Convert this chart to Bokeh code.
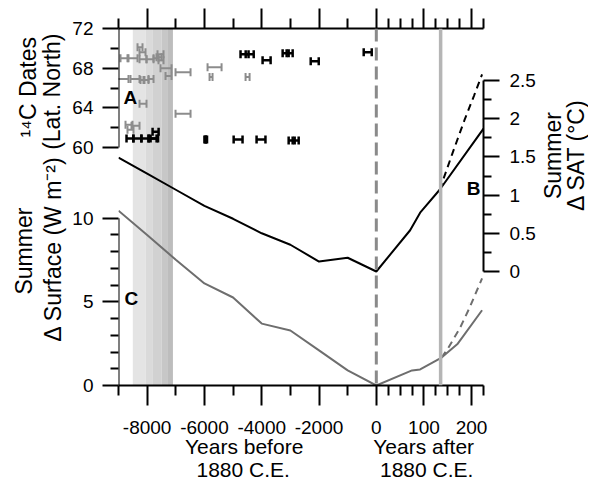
import numpy as np
from bokeh.plotting import figure
from bokeh.layouts import row
from bokeh.models import (Range1d, LinearAxis, FixedTicker, Span, Whisker, TeeHead,
                          ColumnDataSource, BoxAnnotation, Label, Arrow)
from bokeh.embed import file_html
from bokeh.resources import INLINE

# ---------------- data ----------------
# Summer delta SAT (deg C), black line (years relative to 1880 C.E.)
sat_years = [-9000, -8000, -7000, -6000, -5000, -4000, -3000, -2000, -1000, 0, 71, 92, 133, 225]
sat_vals = [1.49, 1.28, 1.07, 0.86, 0.69, 0.50, 0.35, 0.13, 0.18, 0.0, 0.54, 0.77, 1.07, 1.87]
sat_proj_years = [133, 160, 185, 205, 222]
sat_proj_vals = [1.07, 1.55, 1.98, 2.30, 2.58]

# Summer delta surface energy (W m-2), grey line
surf_years = [-9000, -8000, -7000, -6000, -5000, -4000, -3000, -2000, -1000, 0, 75, 92, 137, 171, 222]
surf_vals = [10.45, 8.99, 7.52, 6.10, 5.26, 3.70, 3.29, 2.10, 0.90, 0.0, 0.90, 0.96, 1.67, 2.50, 4.50]
surf_proj_years = [137, 150, 175, 195, 222]
surf_proj_vals = [1.67, 2.20, 3.40, 4.60, 6.40]

# 14C dates: latitude, age range (years before 1880 as negative numbers)
black_lat = [69.6, 68.7, 69.5, 69.5, 68.8, 69.4, 69.4, 60.7, 60.7, 60.8, 60.8, 60.8, 60.8,
             60.9, 60.9, 60.9, 60.9, 60.9, 61.6]
black_lo = [-440, -2290, -3270, -3130, -3970, -4740, -4560, -3060, -2920, -4180, -4980, -6000, -5960,
            -8720, -8480, -8200, -7950, -7880, -7810]
black_hi = [-160, -2010, -3060, -2920, -3690, -4460, -4280, -2850, -2710, -3870, -4670, -5950, -5910,
            -8480, -8200, -7950, -7670, -7620, -7600]

grey_lat = [69.0, 69.0, 68.9, 68.9, 69.0, 69.1, 68.8, 70.1, 69.6, 69.4, 68.0, 67.2, 67.6, 68.1,
            67.1, 67.1, 66.9, 66.9, 66.8, 66.8, 66.9, 64.4, 63.4, 62.3, 62.2, 61.8]
grey_lo = [-8930, -8651, -8266, -8022, -7777, -7673, -7603, -8336, -8266, -7638, -7533, -7358, -7009, -5891,
           -5821, -4564, -9070, -8581, -8232, -8127, -7952, -8266, -7009, -8755, -8546, -8686]
grey_hi = [-8686, -8336, -8022, -7777, -7603, -7498, -7428, -8162, -8057, -7428, -7149, -7149, -6485, -5402,
           -5717, -4424, -8651, -8266, -8092, -7952, -7777, -8022, -6485, -8511, -8266, -8476]

# shaded interval (years) and its grey steps
band_edges = [-8500, -8050, -7800, -7500, -7300, -7100]
band_colors = ["#e4e4e4", "#dadada", "#d1d1d1", "#c7c7c7", "#bdbdbd"]

present_year = 135

# tick values
x_major_before = [-8000, -6000, -4000, -2000, 0]
x_minor_before = [-9000, -7000, -5000, -3000, -1000]
x_major_after = [100, 200]
x_minor_after = [25, 50, 75, 125, 150, 175, 225]
surf_major = [0, 5, 10]
surf_minor = [1, 2, 3, 4, 6, 7, 8, 9]
date_major = [60, 64, 68, 72]
date_minor = [62, 66, 70]
sat_major = [0, 0.5, 1, 1.5, 2, 2.5]
sat_minor = [0.25, 0.75, 1.25, 1.75, 2.25]
sat_labels = ["0", "0.5", "1", "1.5", "2", "2.5"]

# ---------------- geometry / scales ----------------
FONT = "Liberation Sans"
K = 16.63                      # broken axis: 100 yr after 1880 drawn as wide as 1663 yr before


def xt(v):
    a = np.asarray(v, dtype=float)
    return np.where(a > 0, a * K, a)


def xf(v):
    return float(xt([v])[0])


X0, X1 = -9000.0, xf(225)
PX_SURF = 16.73               # px per W m-2
FRAME_H = 357.0
S_TOP = FRAME_H / PX_SURF
D_HI = 72.0
D_LO = D_HI - FRAME_H / 9.917
SAT_PX = 76.4
SAT_HI = 243.0 / SAT_PX
SAT_LO = -(FRAME_H - 243.0) / SAT_PX


def to_s(lat):
    return (lat - D_LO) / (D_HI - D_LO) * S_TOP


# page layout: [left titles | main plot | right titles]
H = 486
LEFT_W, MAIN_BL, MAIN_BR, RIGHT_W = 68, 50, 54, 50
FRAME_L = LEFT_W + MAIN_BL            # 118
FRAME_R = FRAME_L + 366               # 484
MAIN_W = MAIN_BL + 366 + MAIN_BR


# pixel helpers for text placement inside the main frame (frame: x 118..484, y 28..385)
def ux(px):
    return X0 + (px - FRAME_L) * (X1 - X0) / 366.0


def uy(py):
    return (385.0 - py) / PX_SURF


p = figure(width=MAIN_W, height=H, x_range=Range1d(X0, X1), y_range=Range1d(0, S_TOP),
           output_backend="svg", toolbar_location=None,
           x_axis_location=None, y_axis_location=None,
           min_border_left=MAIN_BL, min_border_right=MAIN_BR, min_border_top=28,
           min_border_bottom=H - 385)
p.extra_y_ranges = {"dates": Range1d(D_LO, D_HI), "sat": Range1d(SAT_LO, SAT_HI)}
p.outline_line_color = None
p.background_fill_color = "white"
p.border_fill_color = "white"
p.grid.grid_line_color = None
p.grid.visible = False


def style_axis(ax, big_out, small_out, standoff=8):
    ax.axis_line_width = 2
    ax.axis_line_color = "black"
    ax.major_tick_line_width = 2
    ax.minor_tick_line_width = 2
    ax.major_tick_in = 0
    ax.minor_tick_in = 0
    ax.major_tick_out = big_out
    ax.minor_tick_out = small_out
    ax.major_label_text_font = FONT
    ax.major_label_text_font_size = "19px"
    ax.major_label_text_color = "black"
    ax.major_label_standoff = standoff


def title_axis(side, ticks, texts, standoff, orientation, size):
    ax = LinearAxis(ticker=FixedTicker(ticks=ticks, minor_ticks=[]),
                    major_label_overrides={t: s for t, s in zip(ticks, texts)})
    ax.axis_line_color = None
    ax.major_tick_line_color = None
    ax.minor_tick_line_color = None
    ax.major_tick_in = 0
    ax.major_tick_out = 0
    ax.minor_tick_in = 0
    ax.minor_tick_out = 0
    ax.major_label_standoff = standoff
    ax.major_label_text_font = FONT
    ax.major_label_text_font_size = size
    ax.major_label_text_color = "black"
    ax.major_label_orientation = orientation
    p.add_layout(ax, side)


# x axes
xmaj = x_major_before + x_major_after
xmin = x_minor_before + x_minor_after
x_ticker = FixedTicker(ticks=[xf(t) for t in xmaj], minor_ticks=[xf(t) for t in xmin])
x_over = {xf(t): str(t) for t in xmaj}

xb = LinearAxis(ticker=x_ticker, major_label_overrides=x_over)
style_axis(xb, 20, 10, standoff=15)
p.add_layout(xb, "below")

xa = LinearAxis(ticker=x_ticker, major_label_overrides=x_over)
style_axis(xa, 20, 10, standoff=0)
xa.major_label_text_font_size = "1px"
xa.major_label_text_color = None
p.add_layout(xa, "above")

# x titles (two lines under each part of the broken axis)
title_axis("below", [ux(244), ux(424)], ["Years before", "Years after"], -2, "horizontal", "21px")
title_axis("below", [ux(243), ux(427)], ["1880 C.E.", "1880 C.E."], -3, "horizontal", "21px")

# left axis: surface scale (bottom) and 14C latitude scale (top) share one side
left_ticks = surf_major + [to_s(v) for v in date_major]
left_minor = surf_minor + [to_s(v) for v in date_minor]
left_over = {t: str(t) for t in surf_major}
left_over.update({to_s(v): str(v) for v in date_major})
yl = LinearAxis(ticker=FixedTicker(ticks=left_ticks, minor_ticks=left_minor),
                major_label_overrides=left_over)
style_axis(yl, 16, 8, standoff=9)
yl.axis_line_color = None
p.add_layout(yl, "left")
p.add_layout(Arrow(end=None, x_start=X0, x_end=X0, y_start=surf_major[0], y_end=surf_major[-1],
                   line_width=2, line_color="black"))
p.add_layout(Arrow(end=None, x_start=X0, x_end=X0, y_start=to_s(date_major[0]), y_end=to_s(date_major[-1]),
                   line_width=2, line_color="black"))

# right axis: SAT
yr = LinearAxis(y_range_name="sat", bounds=(sat_major[0], sat_major[-1]),
                ticker=FixedTicker(ticks=sat_major, minor_ticks=sat_minor),
                major_label_overrides={v: s for v, s in zip(sat_major, sat_labels)})
style_axis(yr, 16, 8, standoff=10)
p.add_layout(yr, "right")

# shaded interval
for l, r, c in zip(band_edges[:-1], band_edges[1:], band_colors):
    p.add_layout(BoxAnnotation(left=xf(l), right=xf(r), fill_color=c, fill_alpha=1.0,
                               line_color=None, level="underlay"))

# lines
p.line(xt(sat_years), sat_vals, y_range_name="sat", line_color="black", line_width=2)
p.line(xt(sat_proj_years), sat_proj_vals, y_range_name="sat", line_color="black",
       line_width=2, line_dash="7 5")
p.line(xt(surf_years), surf_vals, line_color="#6e6e6e", line_width=2)
p.line(xt(surf_proj_years), surf_proj_vals, line_color="#6e6e6e", line_width=2, line_dash="7 5")

p.add_layout(Span(location=0.0, dimension="height", line_color="#8a8a8a", line_width=3,
                  line_dash="13 6"))
p.add_layout(Span(location=xf(present_year), dimension="height", line_color="#b5b5b5",
                  line_width=3.5))

# 14C date ranges
for lat, lo, hi, col, lw in [(grey_lat, grey_lo, grey_hi, "#8c8c8c", 2),
                             (black_lat, black_lo, black_hi, "black", 2.5)]:
    src = ColumnDataSource(dict(lat=lat, lo=xt(lo), hi=xt(hi)))
    p.add_layout(Whisker(source=src, base="lat", lower="lo", upper="hi", dimension="width",
                         y_range_name="dates", line_color=col, line_width=lw,
                         lower_head=TeeHead(size=8, line_color=col, line_width=lw),
                         upper_head=TeeHead(size=8, line_color=col, line_width=lw)))


def letter(text, px, py):
    p.add_layout(Label(x=ux(px), y=uy(py), text=text, text_font=FONT,
                       text_font_size="19px", text_align="center", text_baseline="middle",
                       text_color="black", text_font_style="bold"))


letter("A", 130, 97)
letter("C", 131, 298)
letter("B", 474, 188)


# side strips holding the rotated axis titles
def side_fig(w):
    f = figure(width=w, height=H, x_range=Range1d(0, w), y_range=Range1d(0, H),
               output_backend="svg", toolbar_location=None,
               x_axis_location=None, y_axis_location=None,
               min_border_left=0, min_border_right=0, min_border_top=0, min_border_bottom=0)
    f.outline_line_color = None
    f.background_fill_color = "white"
    f.border_fill_color = "white"
    f.grid.visible = False
    return f


def vtitle(f, text, cx, cy):
    f.add_layout(Label(x=cx, y=H - cy, text=text, angle=np.pi / 2, text_font=FONT,
                       text_font_size="23px", text_align="center", text_baseline="middle",
                       text_color="black"))


lf = side_fig(LEFT_W)
vtitle(lf, "\u00b9\u2074C Dates", 27, 80)
vtitle(lf, "(Lat. North)", 51, 86)
vtitle(lf, "Summer", 23, 303)
vtitle(lf, "\u0394 Surface (W m\u207b\u00b2)", 52, 300)

rf = side_fig(RIGHT_W)
x_off = LEFT_W + MAIN_W
vtitle(rf, "Summer", 552 - x_off, 173)
vtitle(rf, "\u0394 SAT (\u00b0C)", 575 - x_off, 172)

layout = row(lf, p, rf)
open("out.html", "w").write(file_html(layout, INLINE))
